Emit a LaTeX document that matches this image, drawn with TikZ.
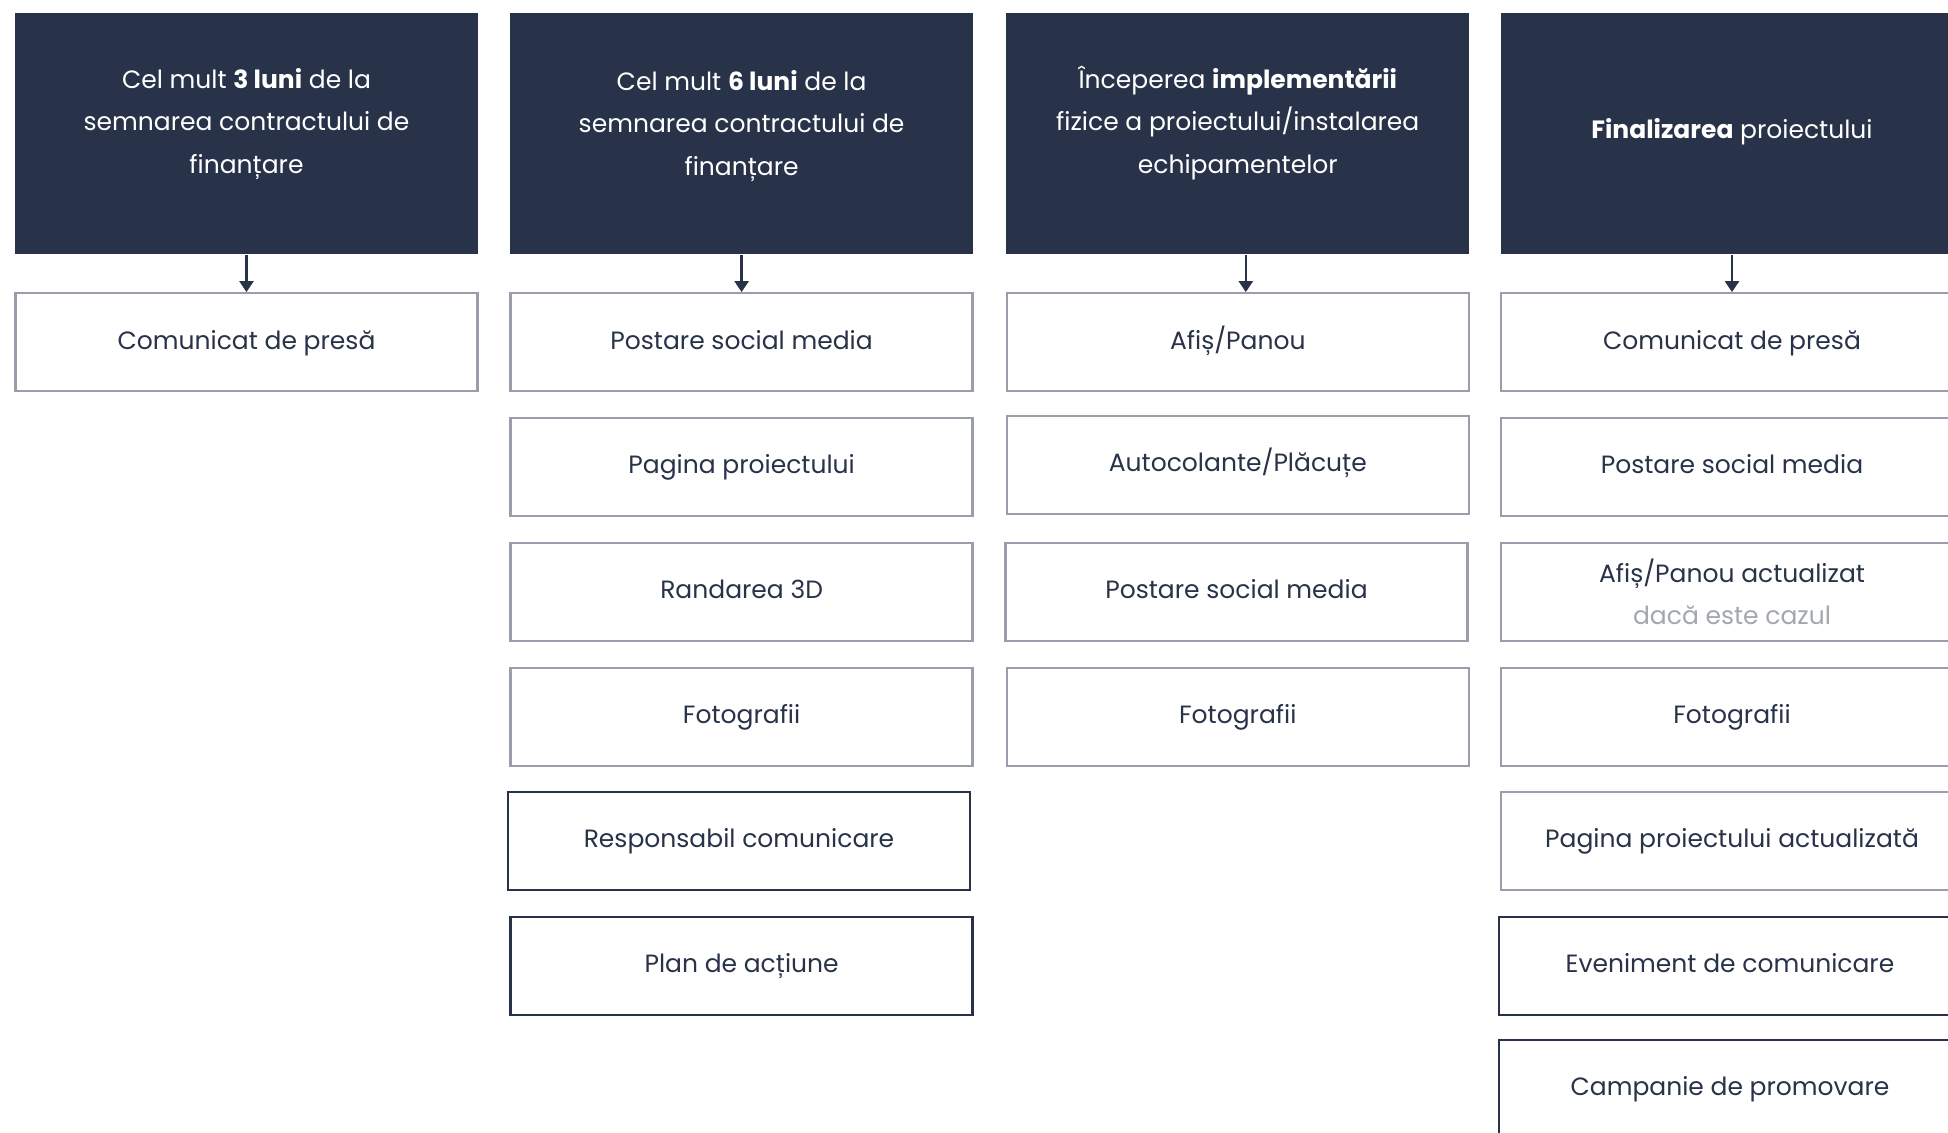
\documentclass[tikz,border=0pt]{standalone}
\usepackage{fontspec}
\setmainfont{Poppins}
\usetikzlibrary{arrows.meta}
\definecolor{navy}{HTML}{283349}
\definecolor{greyline}{HTML}{9A9EAA}
\definecolor{greytext}{HTML}{A3A7B0}
\begin{document}
\begin{tikzpicture}[x=0.5pt,y=-0.5pt,
hd/.style = {fill=navy,minimum width=231.5pt,minimum height=120.5pt,inner sep=0pt},
hdtext/.style = {text=white,align=center,font=\fontsize{12.5}{21.4}\selectfont},
item/.style = {draw=greyline,line width=1.2pt,fill=white,minimum width=231pt,minimum height=49pt,
  inner sep=0pt,text height=9.5pt,text depth=2.7pt,text=navy,align=center,font=\fontsize{12.5}{21}\selectfont},
key/.style = {item,draw=navy,line width=1.4pt},
link/.style = {navy,line width=1.25pt,-{Triangle[length=5.5pt,width=7pt]}}
]
  \useasboundingbox (0,0) rectangle (1948,1133);
  \clip (0,0) rectangle (1948,1133);

  % headers
  \node[hd] (h1) at (246.5,134) {};
  \node[hd] (h2) at (741.6,134) {};
  \node[hd] (h3) at (1237.8,134) {};
  \node[hd] (h4) at (1732,134) {};
  \node[hdtext] (h1t) at (246.5,124) {Cel mult \textbf{3 luni} de la\\semnarea contractului de\\finanțare};
  \node[hdtext] (h2t) at (741.6,126) {Cel mult \textbf{6 luni} de la\\semnarea contractului de\\finanțare};
  \node[hdtext] (h3t) at (1237.8,123) {Începerea \textbf{implementării}\\fizice a proiectului/instalarea\\echipamentelor};
  \node[hdtext] (h4t) at (1732,132) {\textbf{Finalizarea} proiectului};

  % column 1
  \node[item] (a1) at (246.5,342.3) {Comunicat de presă};

  % column 2
  \node[item] (b1) at (741.6,342.3) {Postare social media};
  \node[item] (b2) at (741.6,467) {Pagina proiectului};
  \node[item] (b3) at (741.6,591.8) {Randarea 3D};
  \node[item] (b4) at (741.6,716.7) {Fotografii};
  \node[key] (b5) at (739,841) {Responsabil comunicare};
  \node[key] (b6) at (741.6,966) {Plan de acțiune};

  % column 3
  \node[item] (c1) at (1237.8,342.3) {Afiș/Panou};
  \node[item] (c2) at (1237.8,465) {Autocolante/Plăcuțe};
  \node[item] (c3) at (1236.5,591.8) {Postare social media};
  \node[item] (c4) at (1237.8,716.7) {Fotografii};

  % column 4
  \node[item] (d1) at (1732,342.3) {Comunicat de presă};
  \node[item] (d2) at (1732,467) {Postare social media};
  \node[item,text height=,text depth=] (d3) at (1732,592) {Afiș/Panou actualizat\\\textcolor{greytext}{dacă este cazul}};
  \node[item] (d4) at (1732,716.7) {Fotografii};
  \node[item] (d5) at (1732,841) {Pagina proiectului actualizată};
  \node[key] (d6) at (1730,966) {Eveniment de comunicare};
  \node[key] (d7) at (1730,1089) {Campanie de promovare};

  \draw[link] (h1) -- (a1);
  \draw[link] (h2) -- (b1);
  \draw[link] ([xshift=4pt]h3.south) -- ([xshift=4pt]c1.north);
  \draw[link] (h4) -- (d1);
\end{tikzpicture}
\end{document}
